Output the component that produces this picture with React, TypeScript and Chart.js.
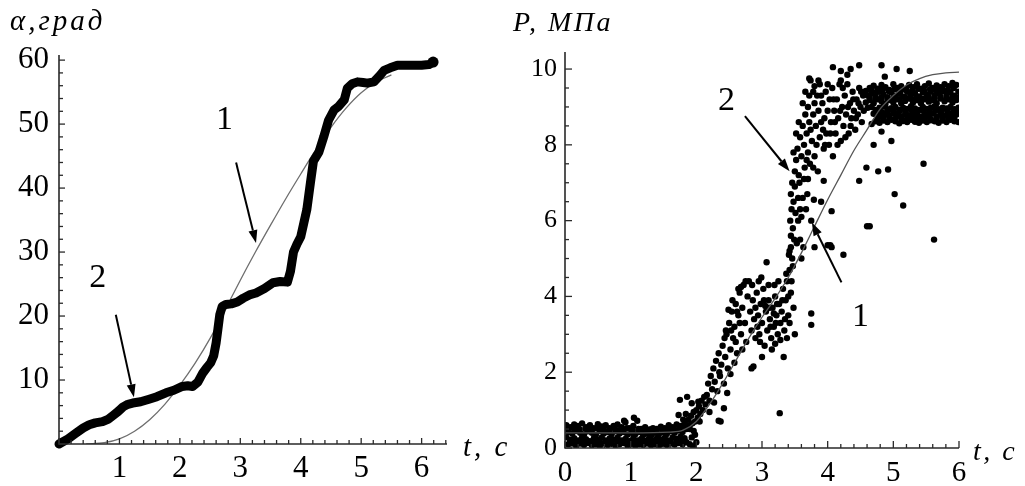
import React, { useEffect, useRef } from "react";
import { Chart, registerables } from "chart.js";

Chart.register(...registerables);

const SERIF = "'Liberation Serif', 'Times New Roman', serif";

// ---------------- Left chart: α (град) vs t (с) ----------------
const leftXTicks = [1, 2, 3, 4, 5, 6];
const leftYTicks = [10, 20, 30, 40, 50, 60];

// curve 1: smooth model
const alphaFit: [number, number][] = [
  [0.45, 0], [0.75, 0.2], [1.0, 0.8], [1.25, 2.0], [1.5, 3.8], [1.75, 6.2],
  [2.0, 9.2], [2.25, 12.6], [2.5, 16.5], [2.75, 21.0], [3.0, 25.6], [3.25, 30.0],
  [3.5, 34.2], [3.75, 38.3], [4.0, 42.2], [4.25, 46.0], [4.5, 49.5], [4.75, 52.5],
  [5.0, 54.9], [5.25, 56.6], [5.5, 57.7],
];

// curve 2: experiment
const alphaExp: [number, number][] = [
  [0, 0], [0.15, 0.8], [0.28, 1.7], [0.4, 2.5], [0.5, 3.0], [0.6, 3.3], [0.72, 3.5],
  [0.82, 3.9], [0.9, 4.5], [0.98, 5.1], [1.06, 5.8], [1.14, 6.2], [1.22, 6.4],
  [1.35, 6.6], [1.49, 7.0], [1.62, 7.4], [1.77, 8.0], [1.9, 8.4], [2.04, 9.0],
  [2.13, 9.1], [2.21, 9.0], [2.3, 9.7], [2.38, 11.1], [2.45, 12.0], [2.51, 12.7],
  [2.56, 13.8], [2.6, 15.8], [2.63, 18.0], [2.66, 20.2], [2.7, 21.5], [2.76, 21.8],
  [2.85, 21.9], [2.95, 22.2], [3.05, 22.8], [3.15, 23.3], [3.26, 23.6], [3.4, 24.3],
  [3.54, 25.2], [3.66, 25.4], [3.78, 25.3], [3.83, 27.0], [3.88, 30.0], [3.94, 31.3],
  [4.0, 32.4], [4.05, 34.5], [4.1, 36.6], [4.16, 40.8], [4.21, 44.2], [4.3, 45.6],
  [4.38, 48.0], [4.46, 50.6], [4.55, 52.2], [4.63, 52.8], [4.72, 53.8], [4.77, 55.6],
  [4.85, 56.3], [4.94, 56.6], [5.03, 56.5], [5.1, 56.4], [5.21, 56.6], [5.3, 57.5],
  [5.38, 58.4], [5.48, 58.8], [5.6, 59.2], [5.8, 59.2], [6.0, 59.2], [6.12, 59.3],
  [6.19, 59.7],
];

// ---------------- Right chart: P (МПа) vs t (с) ----------------
const rightXTicks = [0, 1, 2, 3, 4, 5, 6];
const rightYTicks = [0, 2, 4, 6, 8, 10];

// curve 1: smooth model
const pressureFit: [number, number][] = [
  [0, 0.4], [1.0, 0.4], [1.6, 0.42], [1.8, 0.47], [2.0, 0.7], [2.2, 1.15], [2.4, 1.7],
  [2.6, 2.3], [2.8, 2.9], [3.0, 3.45], [3.2, 3.95], [3.4, 4.5], [3.6, 5.15],
  [3.8, 5.85], [4.0, 6.55], [4.2, 7.2], [4.4, 7.85], [4.6, 8.4], [4.8, 8.95],
  [5.0, 9.3], [5.2, 9.58], [5.4, 9.75], [5.6, 9.85], [5.8, 9.9], [6.0, 9.92],
];

// curve 2: measured points
const pBaseA: [number, number][] = [
  [0.02, 0.6], [0.08, 0.55], [0.14, 0.62], [0.2, 0.58], [0.26, 0.65], [0.32, 0.55],
  [0.38, 0.6], [0.44, 0.52], [0.5, 0.63], [0.56, 0.57], [0.62, 0.6], [0.68, 0.52],
  [0.74, 0.58], [0.8, 0.62], [0.86, 0.55], [0.92, 0.68], [0.98, 0.52], [1.04, 0.58],
  [1.1, 0.72], [1.16, 0.5], [1.22, 0.55], [1.28, 0.48], [1.34, 0.52], [1.4, 0.5],
  [1.46, 0.56], [1.52, 0.52], [1.58, 0.6], [1.64, 0.55], [1.7, 0.62], [1.76, 0.58],
  [1.82, 0.65],
];
const pBaseB: [number, number][] = [
  [0.05, 0.42], [0.11, 0.38], [0.17, 0.45], [0.23, 0.4], [0.29, 0.36], [0.35, 0.44],
  [0.41, 0.4], [0.47, 0.35], [0.53, 0.45], [0.59, 0.38], [0.65, 0.42], [0.71, 0.36],
  [0.77, 0.44], [0.83, 0.38], [0.89, 0.42], [0.95, 0.35], [1.01, 0.4], [1.07, 0.36],
  [1.13, 0.42], [1.19, 0.34], [1.25, 0.38], [1.31, 0.33], [1.37, 0.4], [1.43, 0.36],
  [1.49, 0.42], [1.55, 0.37], [1.61, 0.44], [1.67, 0.4], [1.73, 0.46], [1.79, 0.42],
  [1.85, 0.5],
];
const pBaseC: [number, number][] = [
  [0.02, 0.28], [0.08, 0.22], [0.14, 0.26], [0.2, 0.2], [0.26, 0.27], [0.32, 0.23],
  [0.38, 0.18], [0.44, 0.26], [0.5, 0.22], [0.56, 0.28], [0.62, 0.2], [0.68, 0.25],
  [0.74, 0.22], [0.8, 0.27], [0.86, 0.2], [0.92, 0.24], [0.98, 0.18], [1.04, 0.26],
  [1.1, 0.2], [1.16, 0.24], [1.22, 0.19], [1.28, 0.25], [1.34, 0.2], [1.4, 0.26],
  [1.46, 0.22], [1.52, 0.27], [1.58, 0.2], [1.64, 0.28], [1.7, 0.24], [1.76, 0.3],
  [1.82, 0.26],
];
const pBaseD: [number, number][] = [
  [0.05, 0.1], [0.11, 0.12], [0.17, 0.06], [0.23, 0.12], [0.29, 0.08], [0.35, 0.13],
  [0.41, 0.07], [0.47, 0.1], [0.53, 0.05], [0.59, 0.12], [0.65, 0.08], [0.71, 0.11],
  [0.77, 0.06], [0.83, 0.1], [0.89, 0.13], [0.95, 0.07], [1.01, 0.11], [1.07, 0.06],
  [1.13, 0.1], [1.19, 0.08], [1.25, 0.12], [1.31, 0.07], [1.37, 0.1], [1.43, 0.06],
  [1.49, 0.11], [1.55, 0.08], [1.61, 0.12], [1.67, 0.09], [1.73, 0.13], [1.79, 0.1],
  [1.85, 0.15], [0.9, 0.72], [1.05, 0.8], [1.9, 0.1], [1.95, 0.05], [2.0, 0.15],
  [1.93, 0.28], [1.98, 0.35],
];
const pBaseE: [number, number][] = [
  [0.04, 0.5], [0.13, 0.52], [0.22, 0.49], [0.31, 0.51], [0.4, 0.48], [0.49, 0.52],
  [0.58, 0.5], [0.67, 0.47], [0.76, 0.51], [0.85, 0.49], [0.94, 0.52], [1.03, 0.47],
  [1.12, 0.5], [1.21, 0.46], [1.3, 0.49], [1.39, 0.45], [1.48, 0.49], [1.57, 0.47],
  [1.66, 0.5], [1.75, 0.52], [1.84, 0.56],
];
const pBaseF: [number, number][] = [
  [0.08, 0.17], [0.17, 0.15], [0.26, 0.18], [0.35, 0.16], [0.44, 0.17], [0.53, 0.15],
  [0.62, 0.18], [0.71, 0.16], [0.8, 0.17], [0.89, 0.15], [0.98, 0.17], [1.07, 0.16],
  [1.16, 0.18], [1.25, 0.15], [1.34, 0.17], [1.43, 0.16], [1.52, 0.18], [1.61, 0.16],
  [1.7, 0.19], [1.79, 0.2],
];
const pRise1: [number, number][] = [
  [1.73, 0.87], [1.75, 1.27], [1.8, 0.75], [1.84, 0.9], [1.86, 1.35], [1.86, 0.6],
  [1.88, 0.75], [1.9, 0.5], [1.92, 0.85], [1.93, 1.18], [1.94, 0.65], [1.96, 0.95],
  [1.98, 0.7], [2.0, 1.0], [2.02, 0.8], [2.03, 1.22], [2.04, 1.1], [2.06, 0.9],
  [2.08, 1.25], [2.1, 1.0], [2.12, 1.35], [2.14, 1.15], [1.9, 0.6], [1.96, 0.45],
  [2.05, 0.7],
];
const pRise2: [number, number][] = [
  [2.16, 1.4], [2.18, 1.7], [2.2, 1.25], [2.22, 1.9], [2.24, 1.55], [2.26, 2.1],
  [2.28, 1.75], [2.3, 2.3], [2.32, 1.5], [2.34, 2.5], [2.36, 1.9], [2.38, 2.2],
  [2.4, 2.7], [2.42, 1.7], [2.44, 2.4], [2.46, 3.0], [2.48, 2.1], [2.5, 3.3],
  [2.52, 2.6], [2.54, 3.6], [2.56, 2.9], [2.58, 3.2], [2.6, 3.8], [2.62, 2.5],
  [2.64, 3.5], [2.66, 4.1], [2.68, 3.0], [2.7, 3.7], [2.72, 4.3], [2.74, 3.3],
  [2.76, 2.8], [2.78, 4.0], [2.34, 0.72], [2.37, 0.7], [2.42, 1.05], [2.2, 0.95],
  [2.27, 1.2], [2.47, 1.45], [2.52, 1.95], [2.58, 2.25], [2.49, 3.65], [2.64, 4.2],
  [2.8, 4.4], [2.84, 2.1], [2.45, 3.1], [2.55, 3.9], [2.62, 3.6], [2.7, 2.6],
  [2.75, 4.4], [2.68, 4.25], [2.35, 2.0], [2.43, 2.9], [2.53, 3.1], [2.6, 2.8],
  [2.66, 3.3],
];
const pMid: [number, number][] = [
  [2.82, 3.6], [2.84, 3.1], [2.86, 3.9], [2.88, 3.4], [2.9, 2.9], [2.92, 4.1],
  [2.94, 3.5], [2.96, 3.0], [2.98, 3.8], [3.0, 3.3], [3.02, 4.2], [3.04, 2.7],
  [3.06, 3.6], [3.08, 3.1], [3.1, 3.9], [3.12, 3.4], [3.14, 2.9], [3.16, 3.7],
  [3.18, 3.2], [3.2, 4.0], [3.22, 3.5], [3.24, 3.0], [3.26, 3.8], [3.28, 3.3],
  [3.3, 3.6], [3.32, 4.2], [3.34, 3.1], [3.36, 3.9], [3.38, 4.4], [3.4, 3.5],
  [3.42, 4.7], [3.44, 4.1], [3.46, 5.0], [3.48, 3.7], [2.99, 4.5], [3.07, 4.9],
  [3.15, 2.6], [3.33, 2.4], [3.27, 0.92], [3.5, 3.0], [2.87, 2.15], [3.0, 2.4],
  [3.2, 2.75], [3.1, 4.3], [3.25, 4.4], [2.93, 3.2], [3.05, 3.75], [3.18, 3.55],
  [3.35, 3.4], [3.28, 2.85], [3.38, 2.9], [3.42, 3.3], [3.45, 4.4], [3.47, 4.8],
  [3.4, 4.0], [2.85, 4.3], [2.95, 4.4], [3.03, 3.9], [3.11, 3.7], [3.19, 4.3],
  [3.23, 3.8], [3.31, 3.9], [3.37, 4.6], [3.41, 5.1], [3.44, 5.3], [2.9, 3.7],
  [2.97, 2.8], [3.13, 3.2], [3.21, 3.3],
];
const pSteep: [number, number][] = [
  [3.42, 5.2], [3.44, 5.6], [3.43, 6.0], [3.45, 6.3], [3.44, 6.7], [3.46, 7.0],
  [3.48, 6.5], [3.5, 7.3], [3.47, 5.8], [3.52, 7.6], [3.5, 6.9], [3.54, 7.9],
  [3.56, 7.2], [3.58, 8.2], [3.55, 6.6], [3.6, 7.7], [3.62, 8.5], [3.6, 6.1],
  [3.64, 8.0], [3.66, 8.8], [3.65, 7.4], [3.68, 8.3], [3.7, 9.0], [3.7, 7.8],
  [3.72, 9.3], [3.72, 8.6], [3.74, 9.7], [3.76, 8.1], [3.78, 9.4], [3.78, 8.8],
  [3.8, 9.1], [3.82, 8.5], [3.8, 7.7], [3.84, 9.3], [3.86, 8.9], [3.88, 8.2],
  [3.88, 9.6], [3.9, 8.6], [3.92, 9.1], [3.94, 7.9], [3.95, 8.7], [3.97, 9.4],
  [3.98, 8.3], [4.0, 8.9], [4.02, 8.0], [4.03, 9.2], [4.05, 8.6], [4.07, 9.5],
  [4.08, 7.7], [4.1, 8.9], [4.12, 8.3], [4.14, 9.2], [4.16, 8.7], [4.18, 9.6],
  [4.2, 8.1], [4.22, 9.0], [4.24, 8.5], [4.26, 9.3], [4.28, 8.8], [4.3, 9.6],
  [4.32, 8.3], [4.34, 9.1], [4.36, 8.7], [4.38, 9.4], [4.4, 8.9], [4.42, 8.4],
  [4.44, 9.2], [4.46, 8.8], [4.48, 9.5], [4.5, 9.0], [4.52, 8.6], [4.54, 9.3],
  [3.55, 6.0], [3.58, 5.5], [3.62, 6.6], [3.67, 6.3], [3.7, 7.1], [3.6, 5.0],
  [3.63, 5.3], [3.48, 7.8], [3.52, 8.3], [3.56, 8.6], [3.62, 9.1], [3.66, 9.4],
  [3.53, 5.4], [3.57, 7.0], [3.68, 7.6], [3.74, 8.4], [3.78, 7.4], [3.83, 8.0],
  [3.86, 9.7], [3.9, 9.3], [3.93, 8.4], [3.96, 8.0], [4.0, 9.6], [4.04, 8.3],
  [4.09, 9.2], [4.11, 8.6], [4.15, 8.0], [4.19, 8.9], [4.23, 9.5], [4.27, 8.2],
  [4.31, 9.0], [4.35, 8.5], [4.39, 9.2], [4.43, 8.7], [4.47, 9.1], [4.51, 9.4],
  [4.55, 8.9], [3.64, 7.1], [3.69, 6.7], [3.73, 7.5], [3.58, 6.3], [3.51, 6.2],
  [3.49, 5.5],
];
const pBand: [number, number][] = [
  [4.58, 9.42], [4.64, 9.5], [4.7, 9.56], [4.76, 9.48], [4.82, 9.58], [4.88, 9.52],
  [4.94, 9.45], [5.0, 9.6], [5.06, 9.5], [5.12, 9.55], [5.18, 9.47], [5.24, 9.58],
  [5.3, 9.52], [5.36, 9.6], [5.42, 9.48], [5.48, 9.55], [5.54, 9.62], [5.6, 9.5],
  [5.66, 9.57], [5.72, 9.52], [5.78, 9.6], [5.84, 9.55], [5.9, 9.63], [5.96, 9.58],
  [4.61, 9.3], [4.67, 9.36], [4.73, 9.28], [4.79, 9.4], [4.85, 9.33], [4.91, 9.26],
  [4.97, 9.38], [5.03, 9.3], [5.09, 9.35], [5.15, 9.27], [5.21, 9.4], [5.27, 9.32],
  [5.33, 9.36], [5.39, 9.28], [5.45, 9.38], [5.51, 9.33], [5.57, 9.4], [5.63, 9.3],
  [5.69, 9.37], [5.75, 9.42], [5.81, 9.33], [5.87, 9.38], [5.93, 9.3], [5.99, 9.4],
  [4.58, 9.12], [4.64, 9.18], [4.7, 9.1], [4.76, 9.2], [4.82, 9.15], [4.88, 9.08],
  [4.94, 9.18], [5.0, 9.12], [5.06, 9.2], [5.12, 9.1], [5.18, 9.16], [5.24, 9.22],
  [5.3, 9.12], [5.36, 9.18], [5.42, 9.1], [5.48, 9.2], [5.54, 9.14], [5.6, 9.18],
  [5.66, 9.1], [5.72, 9.22], [5.78, 9.15], [5.84, 9.2], [5.9, 9.12], [5.96, 9.18],
  [4.61, 8.98], [4.67, 9.0], [4.73, 8.92], [4.79, 8.98], [4.85, 9.02], [4.91, 8.94],
  [4.97, 8.97], [5.03, 9.0], [5.09, 8.93], [5.15, 8.98], [5.21, 8.95], [5.27, 9.02],
  [5.33, 8.96], [5.39, 8.92], [5.45, 9.0], [5.51, 8.95], [5.57, 8.98], [5.63, 9.02],
  [5.69, 8.94], [5.75, 8.98], [5.81, 8.96], [5.87, 9.0], [5.93, 8.94], [5.99, 8.98],
  [4.7, 8.82], [4.76, 8.78], [4.82, 8.74], [4.88, 8.8], [4.94, 8.76], [5.0, 8.83],
  [5.06, 8.78], [5.12, 8.74], [5.18, 8.8], [5.24, 8.76], [5.3, 8.82], [5.36, 8.77],
  [5.42, 8.74], [5.48, 8.8], [5.54, 8.78], [5.6, 8.83], [5.66, 8.75], [5.72, 8.8],
  [5.78, 8.77], [5.84, 8.82], [5.9, 8.75], [5.96, 8.8],
  [4.73, 8.62], [4.79, 8.58], [4.85, 8.64], [4.91, 8.6], [4.97, 8.66], [5.03, 8.62],
  [5.09, 8.57], [5.15, 8.63], [5.21, 8.6], [5.27, 8.66], [5.33, 8.61], [5.39, 8.58],
  [5.45, 8.64], [5.51, 8.6], [5.57, 8.65], [5.63, 8.62], [5.69, 8.58], [5.75, 8.64],
  [5.81, 8.6], [5.87, 8.66], [5.93, 8.62], [5.99, 8.6],
];
const pBandExtra: [number, number][] = [
  [4.66, 9.44], [4.75, 9.4], [4.84, 9.46], [4.93, 9.42], [5.02, 9.47], [5.11, 9.41],
  [5.2, 9.46], [5.29, 9.43], [5.38, 9.48], [5.47, 9.42], [5.56, 9.47], [5.65, 9.44],
  [5.74, 9.5], [5.83, 9.45], [5.92, 9.5],
  [4.64, 9.24], [4.73, 9.2], [4.82, 9.25], [4.91, 9.21], [5.0, 9.24], [5.09, 9.2],
  [5.18, 9.26], [5.27, 9.22], [5.36, 9.25], [5.45, 9.21], [5.54, 9.26], [5.63, 9.22],
  [5.72, 9.27], [5.81, 9.23], [5.9, 9.26], [5.98, 9.24],
  [4.74, 8.88], [4.83, 8.86], [4.92, 8.9], [5.01, 8.87], [5.1, 8.89], [5.19, 8.86],
  [5.28, 8.9], [5.37, 8.87], [5.46, 8.89], [5.55, 8.86], [5.64, 8.9], [5.73, 8.87],
  [5.82, 8.9], [5.91, 8.87], [5.98, 8.89],
  [4.76, 8.7], [4.85, 8.68], [4.94, 8.71], [5.03, 8.69], [5.12, 8.7], [5.21, 8.68],
  [5.3, 8.71], [5.39, 8.69], [5.48, 8.7], [5.57, 8.68], [5.66, 8.71], [5.75, 8.69],
  [5.84, 8.7], [5.93, 8.68],
];
const pOutliers: [number, number][] = [
  [3.72, 9.75], [3.8, 9.55], [4.08, 10.05], [4.2, 9.95], [4.3, 9.85], [4.48, 10.1],
  [4.82, 10.1], [5.05, 10.0], [5.25, 9.95], [4.87, 9.8], [4.2, 9.7], [4.35, 10.0],
  [4.59, 7.4], [4.77, 7.3], [4.92, 7.35], [5.46, 7.5], [4.48, 7.05], [5.02, 6.7],
  [5.15, 6.4], [4.6, 5.85], [4.64, 5.85], [5.62, 5.5], [3.8, 5.3], [4.0, 5.35],
  [4.04, 5.35], [4.24, 5.1], [3.75, 3.55], [3.75, 3.25], [3.94, 7.05], [3.9, 6.5],
  [4.06, 6.25], [3.79, 6.55], [3.75, 6.0], [4.06, 5.3], [3.85, 7.3], [4.7, 8.0],
  [4.82, 8.35], [4.67, 8.55], [4.97, 8.1],
];

// annotations (data coordinates): label position, arrow start, arrow tip
const leftNotes = [
  { text: "1", at: [2.74, 50.6], from: [2.93, 44.0], to: [3.26, 31.4] },
  { text: "2", at: [0.64, 25.9], from: [0.94, 20.2], to: [1.24, 7.3] },
];
const rightNotes = [
  { text: "2", at: [2.46, 9.15], from: [2.74, 8.76], to: [3.42, 7.3] },
  { text: "1", at: [4.5, 3.45], from: [4.21, 4.37], to: [3.76, 5.95] },
];

const toXY = (arr: [number, number][]) => arr.map(([x, y]) => ({ x, y }));

const decorPlugin = {
  id: "decor",
  afterDraw(chart: any, _args: any, o: any) {
    const { ctx, chartArea: ca, scales } = chart;
    const xs = scales.x;
    const ys = scales.y;
    ctx.save();
    ctx.strokeStyle = "#2a2a2a";
    ctx.lineWidth = 1.6;
    ctx.beginPath();
    ctx.moveTo(ca.left, ca.top);
    ctx.lineTo(ca.left, ca.bottom);
    ctx.lineTo(ca.right, ca.bottom);
    ctx.stroke();
    ctx.lineWidth = 1.3;
    for (let i = 0; ; i++) {
      const v = i * o.xMinor;
      if (v > xs.max + 1e-9) break;
      const major = Math.abs(v - Math.round(v)) < 1e-6;
      const px = xs.getPixelForValue(v);
      ctx.beginPath();
      ctx.moveTo(px, ca.bottom);
      ctx.lineTo(px, ca.bottom - (major ? o.majorLen : o.minorLen));
      ctx.stroke();
    }
    for (let i = 0; ; i++) {
      const v = i * o.yMinor;
      if (v > ys.max + 1e-9) break;
      const major = Math.abs(v / o.yMajor - Math.round(v / o.yMajor)) < 1e-6;
      const py = ys.getPixelForValue(v);
      ctx.beginPath();
      ctx.moveTo(ca.left, py);
      ctx.lineTo(ca.left + (major ? o.majorLen : o.minorLen), py);
      ctx.stroke();
    }
    ctx.fillStyle = "#000";
    ctx.textBaseline = "alphabetic";
    ctx.textAlign = "left";
    ctx.font = `italic ${o.titleSize}px ${SERIF}`;
    try {
      (ctx as any).letterSpacing = o.titleSpacing;
    } catch (e) {}
    ctx.fillText(o.yTitle, ca.left + o.yTitleDx, o.yTitleY);
    ctx.fillText(o.xTitle, ca.right + o.xTitleDx, ca.bottom + o.xTitleDy);
    try {
      (ctx as any).letterSpacing = "0px";
    } catch (e) {}
    ctx.font = `${o.noteSize}px ${SERIF}`;
    ctx.textAlign = "center";
    ctx.textBaseline = "middle";
    ctx.lineWidth = 2;
    ctx.strokeStyle = "#000";
    for (const n of o.notes) {
      ctx.fillText(n.text, xs.getPixelForValue(n.at[0]), ys.getPixelForValue(n.at[1]));
      const x1 = xs.getPixelForValue(n.from[0]);
      const y1 = ys.getPixelForValue(n.from[1]);
      const x2 = xs.getPixelForValue(n.to[0]);
      const y2 = ys.getPixelForValue(n.to[1]);
      const ang = Math.atan2(y2 - y1, x2 - x1);
      const hl = 13;
      const hw = 4.5;
      const bx = x2 - hl * Math.cos(ang);
      const by = y2 - hl * Math.sin(ang);
      ctx.beginPath();
      ctx.moveTo(x1, y1);
      ctx.lineTo(bx, by);
      ctx.stroke();
      ctx.beginPath();
      ctx.moveTo(x2, y2);
      ctx.lineTo(bx + hw * Math.sin(ang), by - hw * Math.cos(ang));
      ctx.lineTo(bx - hw * Math.sin(ang), by + hw * Math.cos(ang));
      ctx.closePath();
      ctx.fill();
    }
    ctx.restore();
  },
};

function buildScales(p: any) {
  return {
    x: {
      type: "linear",
      min: p.xMin,
      max: p.xMax,
      grid: { display: false, drawTicks: false },
      border: { display: false },
      afterFit: (s: any) => {
        s.height = p.xHeight;
      },
      afterBuildTicks: (s: any) => {
        s.ticks = p.xTicks.map((v: number) => ({ value: v }));
      },
      ticks: {
        color: "#000",
        padding: p.xPad,
        maxRotation: 0,
        autoSkip: false,
        font: { family: SERIF, size: p.xFont },
        callback: (v: any) => String(v),
      },
    },
    y: {
      type: "linear",
      min: p.yMin,
      max: p.yMax,
      grid: { display: false, drawTicks: false },
      border: { display: false },
      afterFit: (s: any) => {
        s.width = p.yWidth;
      },
      afterBuildTicks: (s: any) => {
        s.ticks = p.yTicks.map((v: number) => ({ value: v }));
      },
      ticks: {
        color: "#000",
        padding: p.yPad,
        autoSkip: false,
        font: { family: SERIF, size: p.yFont },
        callback: (v: any) => String(v),
      },
    },
  };
}

export default function App() {
  const leftRef = useRef<HTMLCanvasElement>(null);
  const rightRef = useRef<HTMLCanvasElement>(null);

  useEffect(() => {
    const left = new Chart(leftRef.current as HTMLCanvasElement, {
      type: "scatter",
      data: {
        datasets: [
          {
            data: toXY(alphaExp),
            showLine: true,
            borderColor: "#000",
            borderWidth: 9,
            borderJoinStyle: "round",
            borderCapStyle: "round",
            pointRadius: (c: any) => (c.dataIndex === alphaExp.length - 1 ? 5.5 : 0),
            pointBackgroundColor: "#000",
            pointBorderWidth: 0,
            tension: 0,
            clip: false,
          } as any,
          {
            data: toXY(alphaFit),
            showLine: true,
            borderColor: "#6e6e6e",
            borderWidth: 1.3,
            pointRadius: 0,
            tension: 0.4,
            cubicInterpolationMode: "monotone",
          } as any,
        ],
      },
      options: {
        responsive: false,
        maintainAspectRatio: false,
        animation: false,
        events: [],
        layout: { padding: { left: 0, top: 55, right: 65, bottom: 0 } },
        plugins: {
          legend: { display: false },
          tooltip: { enabled: false },
          decor: {
            xMinor: 0.2,
            yMinor: 2,
            yMajor: 10,
            majorLen: 6,
            minorLen: 4,
            titleSize: 29,
            titleSpacing: "3px",
            yTitle: "α,град",
            yTitleDx: -49,
            yTitleY: 30,
            xTitle: "t, с",
            xTitleDx: 16,
            xTitleDy: 12,
            noteSize: 34,
            notes: leftNotes,
          },
        } as any,
        scales: buildScales({
          xMin: 0, xMax: 6.42, yMin: 0, yMax: 60.8,
          xTicks: leftXTicks, yTicks: leftYTicks,
          xHeight: 42, yWidth: 59, xPad: 6, yPad: 10, xFont: 31, yFont: 31,
        }) as any,
      },
      plugins: [decorPlugin],
    });

    const scatterPoints = toXY([
      ...pBaseA, ...pBaseB, ...pBaseC, ...pBaseD, ...pBaseE, ...pBaseF,
      ...pRise1, ...pRise2, ...pMid, ...pSteep, ...pBand, ...pBandExtra, ...pOutliers,
    ]);

    const right = new Chart(rightRef.current as HTMLCanvasElement, {
      type: "scatter",
      data: {
        datasets: [
          {
            data: toXY(pressureFit),
            showLine: true,
            borderColor: "#555",
            borderWidth: 1.3,
            pointRadius: 0,
            tension: 0.4,
            cubicInterpolationMode: "monotone",
          } as any,
          {
            data: scatterPoints,
            showLine: false,
            pointRadius: 3.2,
            pointBackgroundColor: "#000",
            pointBorderWidth: 0,
            pointBorderColor: "#000",
          } as any,
        ],
      },
      options: {
        responsive: false,
        maintainAspectRatio: false,
        animation: false,
        events: [],
        layout: { padding: { left: 0, top: 52, right: 66, bottom: 0 } },
        plugins: {
          legend: { display: false },
          tooltip: { enabled: false },
          decor: {
            xMinor: 0.2,
            yMinor: 0.5,
            yMajor: 2,
            majorLen: 7,
            minorLen: 4,
            titleSize: 28,
            titleSpacing: "2.5px",
            yTitle: "P, МПа",
            yTitleDx: -52,
            yTitleY: 31,
            xTitle: "t, с",
            xTitleDx: 14,
            xTitleDy: 12,
            noteSize: 34,
            notes: rightNotes,
          },
        } as any,
        scales: buildScales({
          xMin: 0, xMax: 6.0, yMin: 0, yMax: 10.45,
          xTicks: rightXTicks, yTicks: rightYTicks,
          xHeight: 38, yWidth: 53, xPad: 8, yPad: 8, xFont: 29, yFont: 26,
        }) as any,
      },
      plugins: [decorPlugin],
    });

    return () => {
      left.destroy();
      right.destroy();
    };
  }, []);

  return (
    <div
      style={{
        position: "fixed",
        left: 0,
        top: 0,
        width: 1025,
        height: 486,
        background: "#fff",
        overflow: "hidden",
      }}
    >
      <canvas
        ref={leftRef}
        width={512}
        height={486}
        style={{ position: "absolute", left: 0, top: 0, width: 512, height: 486 }}
      />
      <canvas
        ref={rightRef}
        width={513}
        height={486}
        style={{ position: "absolute", left: 512, top: 0, width: 513, height: 486 }}
      />
    </div>
  );
}
